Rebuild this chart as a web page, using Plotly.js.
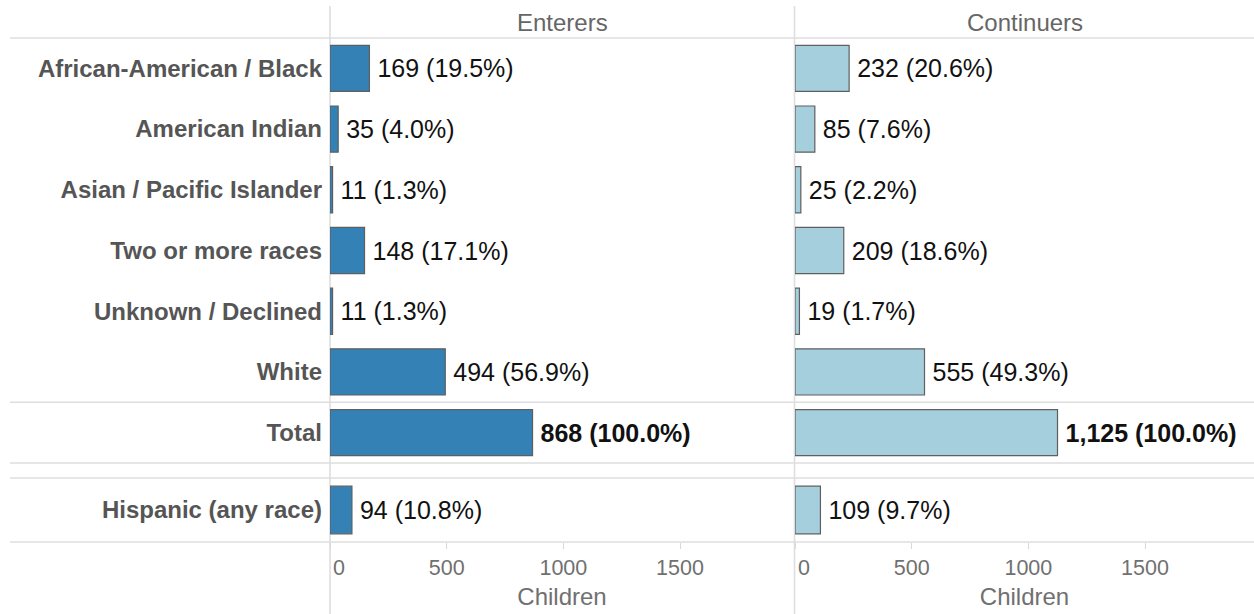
<!DOCTYPE html>
<html>
<head>
<meta charset="utf-8">
<script src="https://cdn.plot.ly/plotly-3.0.1.min.js"></script>
<style>html,body{margin:0;padding:0;background:#fff;}#chart{width:1254px;height:614px;}</style>
</head>
<body>
<div id="chart"></div>
<script>
// ---- data ----
const raceCategories = ['African-American / Black', 'American Indian', 'Asian / Pacific Islander',
  'Two or more races', 'Unknown / Declined', 'White', 'Total'];
const enterersRace = [169, 35, 11, 148, 11, 494, 868];
const enterersRacePct = [19.5, 4.0, 1.3, 17.1, 1.3, 56.9, 100.0];
const continuersRace = [232, 85, 25, 209, 19, 555, 1125];
const continuersRacePct = [20.6, 7.6, 2.2, 18.6, 1.7, 49.3, 100.0];

const ethCategories = ['Hispanic (any race)'];
const enterersEth = [94];
const enterersEthPct = [10.8];
const continuersEth = [109];
const continuersEthPct = [9.7];

const panelTitles = ['Enterers', 'Continuers'];
const axisTitle = 'Children';
const tickValues = [0, 500, 1000, 1500];
const tickLabels = ['0', '500', '1000', '1500'];

// ---- helpers ----
function labels(vals, pcts, cats) {
  return vals.map((v, i) => {
    const s = v.toLocaleString('en-US') + ' (' + pcts[i].toFixed(1) + '%)';
    return cats[i] === 'Total' ? '<b>' + s + '</b>' : s;
  });
}
const FONT = 'Arial, "Liberation Sans", sans-serif';
const blue = '#3481b6', light = '#a5cfdc', outline = '#5f5f5f';

function barTrace(vals, pcts, cats, color, xa, ya, width) {
  return {
    type: 'bar', orientation: 'h', x: vals, y: cats, xaxis: xa, yaxis: ya,
    marker: {color: color, line: {color: outline, width: 1.2}},
    width: width,
    text: labels(vals, pcts, cats).map(t => '\u2009' + t),
    textposition: 'outside', cliponaxis: false, constraintext: 'none',
    textfont: {family: FONT, size: 25, color: '#111'},
    hoverinfo: 'skip', showlegend: false
  };
}

const data = [
  barTrace(enterersRace, enterersRacePct, raceCategories, blue, 'x', 'y', 0.76),
  barTrace(continuersRace, continuersRacePct, raceCategories, light, 'x2', 'y', 0.76),
  barTrace(enterersEth, enterersEthPct, ethCategories, blue, 'x3', 'y2', 0.745),
  barTrace(continuersEth, continuersEthPct, ethCategories, light, 'x4', 'y2', 0.745)
];

// ---- layout geometry ----
const W = 1254, H = 614, mL = 330, mR = 0, mT = 38, mB = 72;
const pw = W - mL - mR, ph = H - mT - mB;
const leftDom = [0, 464 / pw];
const rightDom = [465 / pw, 1];
const topDom = [1 - 425 / ph, 1];
const botDom = [0, 64 / ph];
const rangeL = [0, 464 / (116.67 / 500)];
const rangeR = [0, 459 / (116.67 / 500)];

const hiddenX = (dom, rng, anchor) => ({
  domain: dom, range: rng, anchor: anchor, showticklabels: false, showgrid: false,
  zeroline: false, showline: false, ticks: '', fixedrange: true
});
const shownX = (dom, rng, anchor) => ({
  domain: dom, range: rng, anchor: anchor, showgrid: false, zeroline: false, showline: false,
  ticks: 'outside', ticklen: 6, tickwidth: 1, tickcolor: '#d8d8d8',
  tickvals: tickValues,
  ticktext: tickLabels.map((t, i) => i === 0 ? '\u00a0\u00a0\u00a0' + t : t),
  tickfont: {family: FONT, size: 21.5, color: '#707070'},
  title: {text: axisTitle, font: {family: FONT, size: 24, color: '#707070'}, standoff: 9},
  fixedrange: true
});
const yAx = (dom, cats, anchor) => ({
  domain: dom, type: 'category', categoryorder: 'array', categoryarray: cats,
  autorange: 'reversed', anchor: anchor, showgrid: false, zeroline: false, showline: false,
  ticks: '', ticklabelstandoff: 7,
  tickfont: {family: FONT, size: 24, color: '#555555', weight: 'bold'}, fixedrange: true
});

const lineColor = '#dedede';
const xStart = (10 - mL) / pw;
const rowH = (topDom[1] - topDom[0]) / raceCategories.length;
const hLines = [topDom[1], topDom[0] + rowH, topDom[0], botDom[1], botDom[0]];
const shapes = hLines.map(y => ({
  type: 'line', xref: 'paper', yref: 'paper', x0: xStart, x1: 1, y0: y, y1: y,
  line: {color: lineColor, width: 1.6}, layer: 'below'
}));
[leftDom[0], (leftDom[1] + rightDom[0]) / 2].forEach(x => shapes.push({
  type: 'line', xref: 'paper', yref: 'paper', x0: x, x1: x,
  y0: -mB / ph, y1: 1 + (mT - 6) / ph,
  line: {color: lineColor, width: 1.6}, layer: 'below'
}));

const annotations = [
  {text: panelTitles[0], x: (leftDom[0] + leftDom[1]) / 2},
  {text: panelTitles[1], x: (rightDom[0] + rightDom[1]) / 2}
].map(a => ({
  text: a.text, x: a.x, xref: 'paper', yref: 'paper', y: 1 + 16 / ph, yanchor: 'middle',
  xanchor: 'center', showarrow: false, font: {family: FONT, size: 24, color: '#666666'}
}));

const layout = {
  width: W, height: H, margin: {l: mL, r: mR, t: mT, b: mB, pad: 0},
  paper_bgcolor: '#ffffff', plot_bgcolor: 'rgba(0,0,0,0)',
  bargap: 0, showlegend: false,
  xaxis: hiddenX(leftDom, rangeL, 'y'),
  xaxis2: hiddenX(rightDom, rangeR, 'y'),
  xaxis3: shownX(leftDom, rangeL, 'y2'),
  xaxis4: shownX(rightDom, rangeR, 'y2'),
  yaxis: yAx(topDom, raceCategories, 'x'),
  yaxis2: yAx(botDom, ethCategories, 'x3'),
  shapes: shapes, annotations: annotations,
  font: {family: FONT}
};

Plotly.newPlot('chart', data, layout, {displayModeBar: false, staticPlot: true});
</script>
</body>
</html>
